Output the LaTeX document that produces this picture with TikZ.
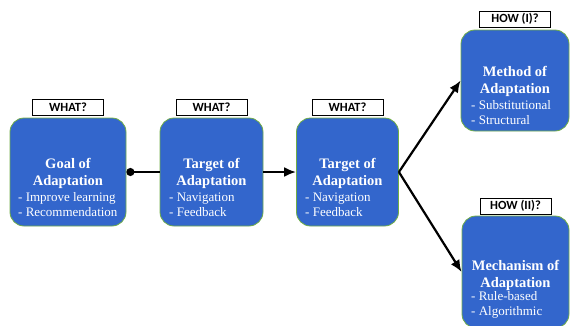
\documentclass[tikz,border=0pt]{standalone}
\usepackage{fontspec}
\setmainfont{Liberation Serif}
\newfontfamily\qfont{Carlito}
\usetikzlibrary{positioning,arrows.meta}
\definecolor{boxblue}{RGB}{51,102,204}
\definecolor{boxgreen}{RGB}{112,173,71}
\tikzset{
  stagebox/.style={draw=boxgreen, line width=0.8pt, fill=boxblue, rounded corners=14pt, inner sep=0pt},
  stagetitle/.style={text=white, font=\bfseries\fontsize{14.5}{17}\selectfont, align=center, inner sep=0pt},
  stageitems/.style={text=white, font=\fontsize{13}{15}\selectfont, align=left, anchor=west, inner sep=0pt},
  question/.style={draw, fill=white, line width=0.7pt, font=\qfont\bfseries\fontsize{12.5}{13}\selectfont, minimum width=71pt, minimum height=16pt, inner sep=0pt},
  flow/.style={line width=2.2pt, -{Latex[length=12pt,width=10pt]}}
}
\begin{document}
\begin{tikzpicture}[x=1pt,y=-1pt]
\useasboundingbox (0,0) rectangle (570,325);
\node (t-goal) at (68,172) [stagebox, minimum width=116pt, minimum height=108pt] {};
\node (t-target1) at (211.5,172) [stagebox, minimum width=103pt, minimum height=108pt] {};
\node (t-target2) at (347.5,172) [stagebox, minimum width=102pt, minimum height=108pt] {};
\node (t-method) at (515,80.5) [stagebox, minimum width=108pt, minimum height=101pt] {};
\node (t-mech) at (515.5,272) [stagebox, minimum width=107pt, minimum height=112pt] {};
\node (h-goal) at (68,173) [stagetitle] {Goal of\\Adaptation};
\node (h-target1) at (211.5,173) [stagetitle] {Target of\\Adaptation};
\node (h-target2) at (347.5,173) [stagetitle] {Target of\\Adaptation};
\node (h-method) at (515,81.5) [stagetitle] {Method of\\Adaptation};
\node (h-mech) at (515.5,275) [stagetitle] {Mechanism of\\Adaptation};
\node (i-goal) at (18,204.5) [stageitems] {- Improve learning\\- Recommendation};
\node (i-target1) at (169,204.5) [stageitems] {- Navigation\\- Feedback};
\node (i-target2) at (305,204.5) [stageitems] {- Navigation\\- Feedback};
\node (i-method) at (471,113) [stageitems] {- Substitutional\\- Structural};
\node (i-mech) at (471,304.5) [stageitems] {- Rule-based\\- Algorithmic};
\node (q-goal) [question, above=2pt of t-goal] {WHAT?};
\node (q-target1) [question, above=2pt of t-target1] {WHAT?};
\node (q-target2) [question, above=2pt of t-target2] {WHAT?};
\node (q-method) [question, above=2pt of t-method] {HOW (I)?};
\node (q-mech) [question, above=1pt of t-mech] {HOW (II)?};
\draw[flow, {Circle[length=8pt]}-] (t-goal) -- (t-target1);
\draw[flow] (t-target1) -- (t-target2);
\draw[flow] (t-target2.east) -- (t-method.west);
\draw[flow] (t-target2.east) -- (t-mech.west);
\end{tikzpicture}
\end{document}
